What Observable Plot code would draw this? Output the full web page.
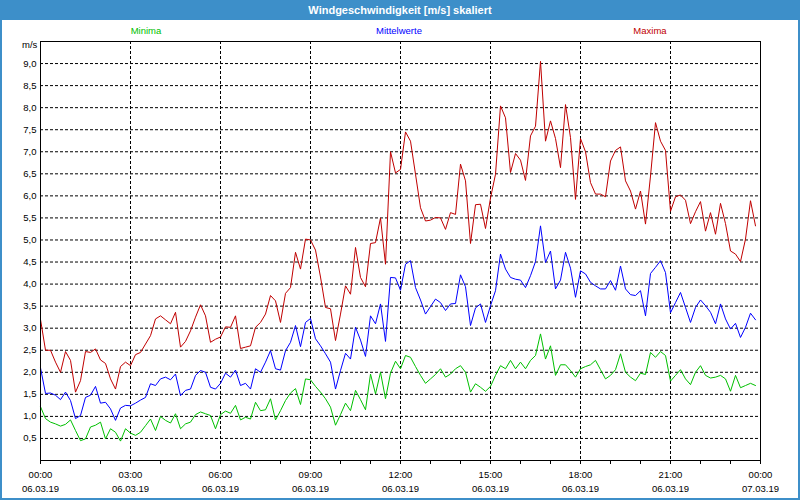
<!DOCTYPE html>
<html><head><meta charset="utf-8">
<script src="https://cdn.jsdelivr.net/npm/d3@7"></script>
<script src="https://cdn.jsdelivr.net/npm/@observablehq/plot@0.6"></script>
<style>
html,body{margin:0;padding:0;background:#fff;}
#win{position:relative;width:800px;height:500px;overflow:hidden;font-family:"Liberation Sans",Arial,sans-serif;background:#fff;}
#title{height:20px;background:#3d8fc9;color:#fff;font-weight:bold;font-size:11px;text-align:center;line-height:20px;}
#chart{position:absolute;left:0;top:20px;}
.leg{position:absolute;top:25px;font-size:9.5px;line-height:12px;transform:translateX(-50%);white-space:nowrap;}
#unit{position:absolute;left:22px;top:39px;font-size:9.5px;line-height:12px;}
#border{position:absolute;left:0;top:0;width:800px;height:500px;box-sizing:border-box;border:2px solid #3d8fc9;border-top:none;pointer-events:none;}
</style></head>
<body>
<div id="win">
  <div id="title">Windgeschwindigkeit [m/s] skaliert</div>
  <div id="chart"></div>
  <div id="legend"></div>
  <div id="unit">m/s</div>
  <div id="border"></div>
</div>
<script>
// series names, colours, legend positions
const seriesNames = ["Minima", "Mittelwerte", "Maxima"];
const seriesColors = ["#00c000", "#0000ff", "#c00000"];
const legendX = [146, 399, 650];

// 10-minute values, 06.03.19 00:00 .. 23:50
const minima = [1.22,0.95,0.87,0.83,0.78,0.82,0.92,0.68,0.45,0.49,0.76,0.8,0.87,0.49,0.72,0.64,0.44,0.72,0.62,0.57,
0.64,0.79,0.94,0.68,1.0,0.91,0.85,1.06,0.72,0.83,0.87,1.04,1.1,1.06,1.02,0.72,1.04,1.12,1.07,1.25,
0.92,0.98,0.94,1.32,1.13,1.15,1.4,0.92,1.13,1.36,1.53,1.63,1.27,1.85,1.83,1.68,1.55,1.4,1.21,0.8,
1.04,1.3,1.13,1.59,1.38,1.15,1.96,1.51,2.0,1.4,1.98,2.25,2.08,2.38,2.34,2.13,1.93,1.75,1.85,1.95,
2.08,1.89,1.96,2.08,2.15,2.0,1.55,1.74,1.66,1.57,1.68,1.93,2.15,2.08,2.27,2.08,2.23,2.08,2.27,2.38,
2.87,2.3,2.6,1.93,2.17,2.17,2.04,1.89,2.08,2.13,2.17,2.27,2.06,1.85,1.93,2.06,2.42,2.0,1.89,1.81,
1.98,1.95,2.45,2.34,2.47,2.38,1.8,1.93,2.06,1.85,1.72,2.0,2.15,1.93,1.87,1.89,1.93,1.85,1.57,1.93,
1.65,1.7,1.75,1.7];
const mittelwerte = [2.1,1.52,1.53,1.48,1.38,1.55,1.36,0.95,1.02,1.43,1.48,1.68,1.3,1.32,1.17,0.91,1.19,1.25,1.24,1.3,
1.37,1.43,1.74,1.7,1.85,1.89,1.83,1.96,1.47,1.59,1.62,1.93,2.04,2.0,1.66,1.62,1.75,1.98,1.89,2.05,
1.7,1.75,1.62,2.08,2.0,2.23,2.49,2.08,2.05,2.49,2.68,3.06,2.58,3.13,3.22,2.76,2.6,2.42,2.23,1.62,
2.04,2.43,2.3,3.02,2.73,2.36,3.28,3.1,3.55,2.7,4.15,4.14,3.86,4.45,4.53,3.92,3.64,3.32,3.49,3.66,
3.58,3.4,3.55,3.56,4.21,3.94,3.06,3.46,3.55,3.13,3.51,3.85,4.68,4.34,4.15,4.11,4.09,3.92,4.19,4.51,
5.32,4.49,4.75,3.89,4.09,4.72,4.36,3.7,4.3,4.23,4.04,3.96,3.89,3.89,4.08,3.86,4.41,3.89,3.76,3.74,
3.85,3.28,4.24,4.38,4.53,4.26,3.35,3.58,3.81,3.47,3.13,3.47,3.64,3.51,3.36,3.1,3.55,3.21,2.98,3.11,
2.79,3.02,3.34,3.19];
const maxima = [3.2,2.5,2.5,2.23,2.0,2.47,2.27,1.55,1.81,2.47,2.45,2.53,2.28,2.2,1.85,1.62,2.13,2.23,2.15,2.4,
2.45,2.64,2.83,3.21,3.28,3.19,3.1,3.36,2.57,2.7,2.94,3.25,3.53,3.28,2.68,2.75,2.8,3.03,3.02,3.28,
2.54,2.57,2.6,3.02,3.13,3.32,3.74,3.62,3.13,3.79,3.92,4.72,4.34,5.02,5.0,4.77,4.16,3.47,3.44,2.72,
3.32,3.96,3.77,4.83,4.15,3.94,4.92,4.94,5.5,4.45,7.0,6.52,6.6,7.45,7.24,6.49,5.73,5.43,5.45,5.51,
5.5,5.24,5.62,5.58,6.72,6.34,4.92,5.8,5.81,5.26,5.95,6.49,8.04,7.77,6.53,6.96,6.81,6.35,7.36,7.58,
9.05,7.24,7.7,7.3,6.64,8.07,7.32,5.92,7.3,7.0,6.3,6.04,6.04,5.98,6.79,7.03,7.11,6.34,6.11,5.7,
6.11,5.36,6.45,7.66,7.24,7.03,5.65,5.98,6.02,5.9,5.37,5.64,5.87,5.2,5.62,5.13,5.83,5.37,4.75,4.68,
4.51,5.02,5.89,5.32];

// axis ticks (hours since 06.03.19 00:00)
const xMajorHours = [0, 3, 6, 9, 12, 15, 18, 21, 24];
const xTimeLabels = ["00:00","03:00","06:00","09:00","12:00","15:00","18:00","21:00","00:00"];
const xDateLabels = ["06.03.19","06.03.19","06.03.19","06.03.19","06.03.19","06.03.19","06.03.19","06.03.19","07.03.19"];
const xGridHours = [3, 6, 9, 12, 15, 18, 21];
const xMinorHours = d3.range(0, 25, 1);
const yTicks = [0.5,1,1.5,2,2.5,3,3.5,4,4.5,5,5.5,6,6.5,7,7.5,8,8.5,9];

const rows = [];
[minima, mittelwerte, maxima].forEach((arr, s) => {
  arr.forEach((v, i) => rows.push({series: seriesNames[s], h: i / 6, v}));
});
// draw order: maxima, mittelwerte, minima
const order = ["Maxima", "Mittelwerte", "Minima"];

const fmtY = d => d3.format(".1f")(d).replace(".", ",");
const dash = "3,2";

const chart = Plot.plot({
  width: 800, height: 480,
  marginLeft: 40, marginRight: 40, marginTop: 21, marginBottom: 40,
  style: {fontFamily: "'Liberation Sans', Arial, sans-serif", fontSize: "9.5px", color: "#000", background: "transparent"},
  x: {domain: [0, 24]},
  y: {domain: [0, 9.5]},
  color: {domain: seriesNames, range: seriesColors},
  marks: [
    Plot.gridY(yTicks, {stroke: "#000", strokeOpacity: 1, strokeDasharray: dash}),
    Plot.gridX(xGridHours, {stroke: "#000", strokeOpacity: 1, strokeDasharray: dash}),
    Plot.axisY(yTicks, {tickSize: 0, tickPadding: 4, tickFormat: fmtY, label: null}),
    Plot.axisX(xMinorHours, {tickSize: 4, tickFormat: () => "", label: null}),
    Plot.axisX(xMajorHours, {tickSize: 0, tickPadding: 11, tickFormat: (d, i) => xTimeLabels[i], label: null}),
    Plot.axisX(xMajorHours, {tickSize: 0, tickPadding: 25, tickFormat: (d, i) => xDateLabels[i], label: null}),
    ...order.map(name => Plot.line(rows.filter(r => r.series === name), {x: "h", y: "v", stroke: "series", strokeWidth: 1})),
    Plot.frame({stroke: "#000"})
  ]
});
document.getElementById("chart").appendChild(chart);

const leg = document.getElementById("legend");
seriesNames.forEach((n, i) => {
  const s = document.createElement("div");
  s.className = "leg";
  s.style.left = legendX[i] + "px";
  s.style.color = seriesColors[i];
  s.textContent = n;
  leg.appendChild(s);
});
</script>
</body></html>
